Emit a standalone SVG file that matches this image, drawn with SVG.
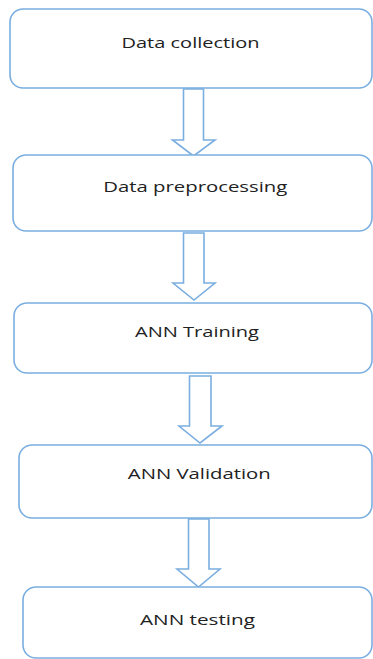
<svg xmlns="http://www.w3.org/2000/svg" width="373" height="659" viewBox="0 0 373 659">
<style>
.box{fill:#ffffff;stroke:#7aaee0;stroke-width:1.6}
.arr{fill:#ffffff;stroke:#7aaee0;stroke-width:1.6;stroke-linejoin:miter}
.lbl{font-family:"Open Sans","Liberation Sans",sans-serif;font-size:15px;fill:#222222;text-anchor:middle}
</style>
<rect width="373" height="659" fill="#ffffff"/>
<g id="connectors">
<polygon class="arr" points="183.5,89 203.5,89 203.5,140 215,140 193.5,156 172.5,140 183.5,140"/>
<polygon class="arr" points="183.5,233 204,233 204,283 215,283 194,300 173,283 183.5,283"/>
<polygon class="arr" points="189.5,376 211,376 211,426 222,426 200,443 179,426 189.5,426"/>
<polygon class="arr" points="188.5,519 209,519 209,569 220,569 198.5,587 177,569 188.5,569"/>
</g>
<g id="n1"><rect class="box" x="10" y="9" width="362" height="79" rx="13"/><text class="lbl" x="190.5" y="47.5" textLength="138" lengthAdjust="spacingAndGlyphs">Data collection</text></g>
<g id="n2"><rect class="box" x="13" y="155" width="359" height="76" rx="13"/><text class="lbl" x="195.3" y="192" textLength="184" lengthAdjust="spacingAndGlyphs">Data preprocessing</text></g>
<g id="n3"><rect class="box" x="14" y="303" width="358" height="70" rx="13"/><text class="lbl" x="197" y="337" textLength="124" lengthAdjust="spacingAndGlyphs">ANN Training</text></g>
<g id="n4"><rect class="box" x="19" y="445" width="353" height="73" rx="13"/><text class="lbl" x="199.3" y="479" textLength="143" lengthAdjust="spacingAndGlyphs">ANN Validation</text></g>
<g id="n5"><rect class="box" x="23" y="587" width="349" height="71" rx="13"/><text class="lbl" x="197.5" y="625" textLength="115" lengthAdjust="spacingAndGlyphs">ANN testing</text></g>
</svg>
